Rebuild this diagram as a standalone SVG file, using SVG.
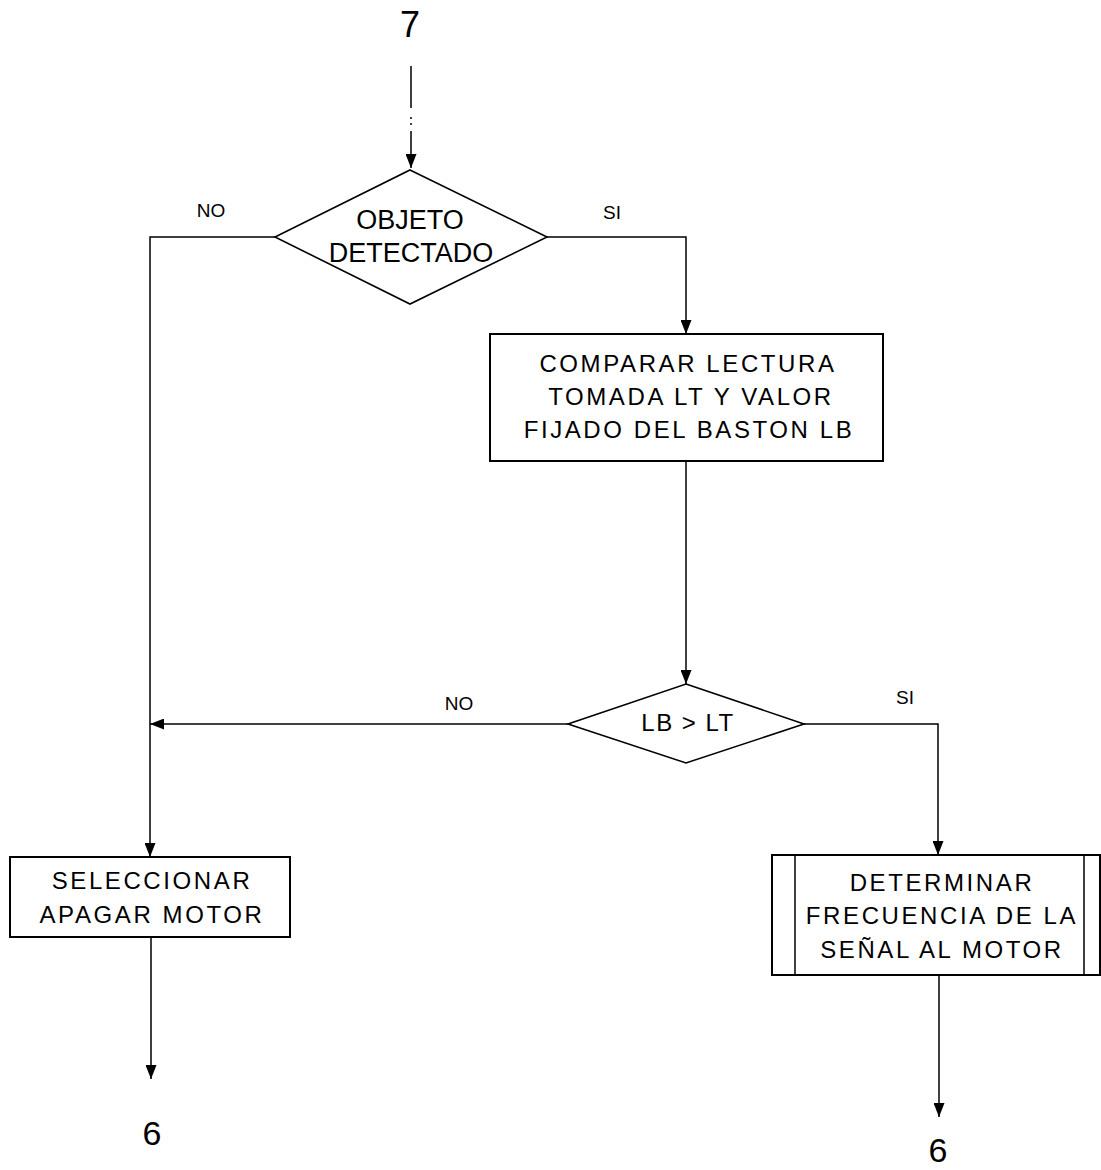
<svg xmlns="http://www.w3.org/2000/svg" width="1101" height="1170" viewBox="0 0 1101 1170">
<style>
text{font-family:"Liberation Sans",Arial,sans-serif;fill:#000}
.box{fill:none;stroke:#000;stroke-width:2}
.dia{fill:none;stroke:#000;stroke-width:1.6}
.ln{fill:none;stroke:#000;stroke-width:1.5}
.bt{font-size:24px;letter-spacing:2.6px;text-anchor:middle}
.dt{font-size:27px;text-anchor:middle}
.lb{font-size:19px;text-anchor:middle}
.big{font-size:36px;text-anchor:middle}
</style>
<defs>
<marker id="ah" viewBox="0 0 14 11" refX="14" refY="5.5" markerWidth="14" markerHeight="11" markerUnits="userSpaceOnUse" orient="auto">
<path d="M0,0 L14,5.5 L0,11 Z" fill="#000"/>
</marker>
</defs>

<text class="big" x="410" y="37">7</text>
<text class="big" x="152" y="1145" style="font-size:34px">6</text>
<text class="big" x="938" y="1162" style="font-size:34px">6</text>

<g id="connectors">
<path class="ln" d="M411,66 V168" stroke-dasharray="42 9 2 4 2 6 40" marker-end="url(#ah)"/>
<path class="ln" d="M275,237 H150 V857" marker-end="url(#ah)"/>
<path class="ln" d="M547,237 H686 V334" marker-end="url(#ah)"/>
<path class="ln" d="M686,461 V684" marker-end="url(#ah)"/>
<path class="ln" d="M568,724 H150" marker-end="url(#ah)"/>
<path class="ln" d="M804,724 H938 V855" marker-end="url(#ah)"/>
<path class="ln" d="M151,937 V1079" marker-end="url(#ah)"/>
<path class="ln" d="M939,975 V1117" marker-end="url(#ah)"/>
<text class="lb" x="211" y="217">NO</text>
<text class="lb" x="612" y="219">SI</text>
<text class="lb" x="459" y="710">NO</text>
<text class="lb" x="905" y="704">SI</text>
</g>

<g id="decision1">
<polygon class="dia" points="410,170 547,237 410,304 275,237"/>
<text class="dt" x="410" y="229">OBJETO</text>
<text class="dt" x="411" y="262">DETECTADO</text>
</g>

<g id="compare">
<rect class="box" x="490" y="334" width="393" height="127"/>
<text class="bt" x="688" y="372">COMPARAR LECTURA</text>
<text class="bt" x="691" y="405">TOMADA LT Y VALOR</text>
<text class="bt" x="689" y="438">FIJADO DEL BASTON LB</text>
</g>

<g id="decision2">
<polygon class="dia" points="686,684 804,724 686,763 568,724"/>
<text x="688" y="731" style="font-size:24px;letter-spacing:1.5px;text-anchor:middle">LB &gt; LT</text>
</g>

<g id="apagar">
<rect class="box" x="10" y="857" width="280" height="80"/>
<text class="bt" x="152" y="889">SELECCIONAR</text>
<text class="bt" x="152" y="923">APAGAR MOTOR</text>
</g>

<g id="frecuencia">
<rect class="box" x="772" y="855" width="328" height="120"/>
<line class="ln" x1="795" y1="855" x2="795" y2="975"/>
<line class="ln" x1="1084" y1="855" x2="1084" y2="975"/>
<text class="bt" x="942" y="891">DETERMINAR</text>
<text class="bt" x="942" y="924">FRECUENCIA DE LA</text>
<text class="bt" x="942" y="958">SEÑAL AL MOTOR</text>
</g>
</svg>
